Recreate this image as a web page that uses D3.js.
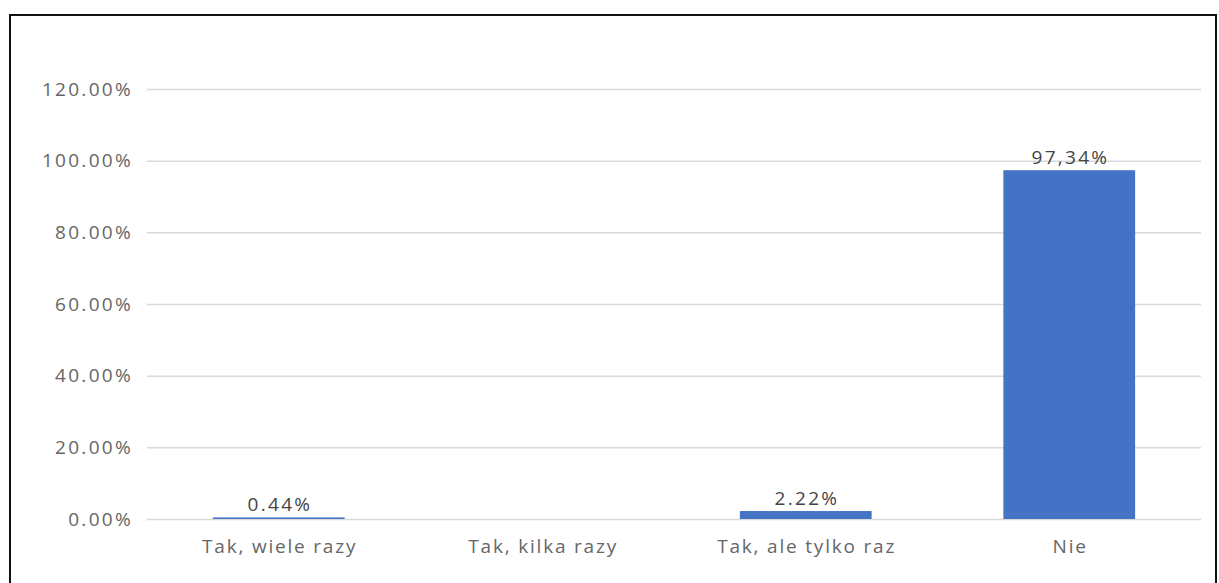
<!DOCTYPE html>
<html><head><meta charset="utf-8">
<script src="https://cdn.jsdelivr.net/npm/d3@7"></script>
<style>
html,body{margin:0;padding:0;background:#fff;}
svg{display:block;}
text{font-family:"Open Sans",sans-serif;}
</style></head>
<body>
<svg id="chart" width="1219" height="583"></svg>
<script>
const categories = ["Tak, wiele razy", "Tak, kilka razy", "Tak, ale tylko raz", "Nie"];
const values = [0.44, 0, 2.22, 97.34];
const valueLabels = ["0.44%", "", "2.22%", "97,34%"];
const yTicks = [0, 20, 40, 60, 80, 100, 120];
const yTickLabels = ["0.00%", "20.00%", "40.00%", "60.00%", "80.00%", "100.00%", "120.00%"];

const svg = d3.select("#chart");
const W = 1219, H = 583;
const m = {left: 147, right: 18, top: 89, bottom: 64};

// frame
svg.append("path")
  .attr("d", `M10,585 L10,15 L1216,15 L1216,585`)
  .attr("fill", "none").attr("stroke", "#111").attr("stroke-width", 2);

const x = d3.scaleBand().domain(categories).range([m.left, W - m.right]).paddingInner(0.5).paddingOuter(0.25);
const y = d3.scaleLinear().domain([0, 120]).range([H - m.bottom, m.top]);

const yAxis = d3.axisLeft(y).tickValues(yTicks)
  .tickFormat((d, i) => yTickLabels[i])
  .tickSize(-(W - m.right - m.left)).tickPadding(14);
const gy = svg.append("g").attr("transform", `translate(${m.left},0)`).call(yAxis);
gy.select(".domain").remove();
gy.selectAll(".tick line").attr("stroke", "#d9d9d9").attr("stroke-width", 1.5);
gy.selectAll(".tick text").attr("fill", "#666").attr("font-size", 19).attr("letter-spacing", 2.3);

const xAxis = d3.axisBottom(x).tickSize(0).tickPadding(21);
const gx = svg.append("g").attr("transform", `translate(0,${H - m.bottom})`).call(xAxis);
gx.select(".domain").remove();
gx.selectAll(".tick text").attr("fill", "#666").attr("font-size", 19).attr("letter-spacing", 1.8).attr("dx", 0.9);

svg.append("g").selectAll("rect").data(values).join("rect")
  .attr("x", (d, i) => x(categories[i]))
  .attr("width", x.bandwidth())
  .attr("y", d => y(d))
  .attr("height", d => y(0) - y(d))
  .attr("fill", "#4472c4");

svg.append("g").selectAll("text").data(values).join("text")
  .attr("x", (d, i) => x(categories[i]) + x.bandwidth() / 2 + 1.2)
  .attr("y", d => y(d) - 6)
  .attr("text-anchor", "middle")
  .attr("fill", "#444").attr("font-size", 19).attr("letter-spacing", 2.3)
  .text((d, i) => valueLabels[i]);
</script>
</body></html>
